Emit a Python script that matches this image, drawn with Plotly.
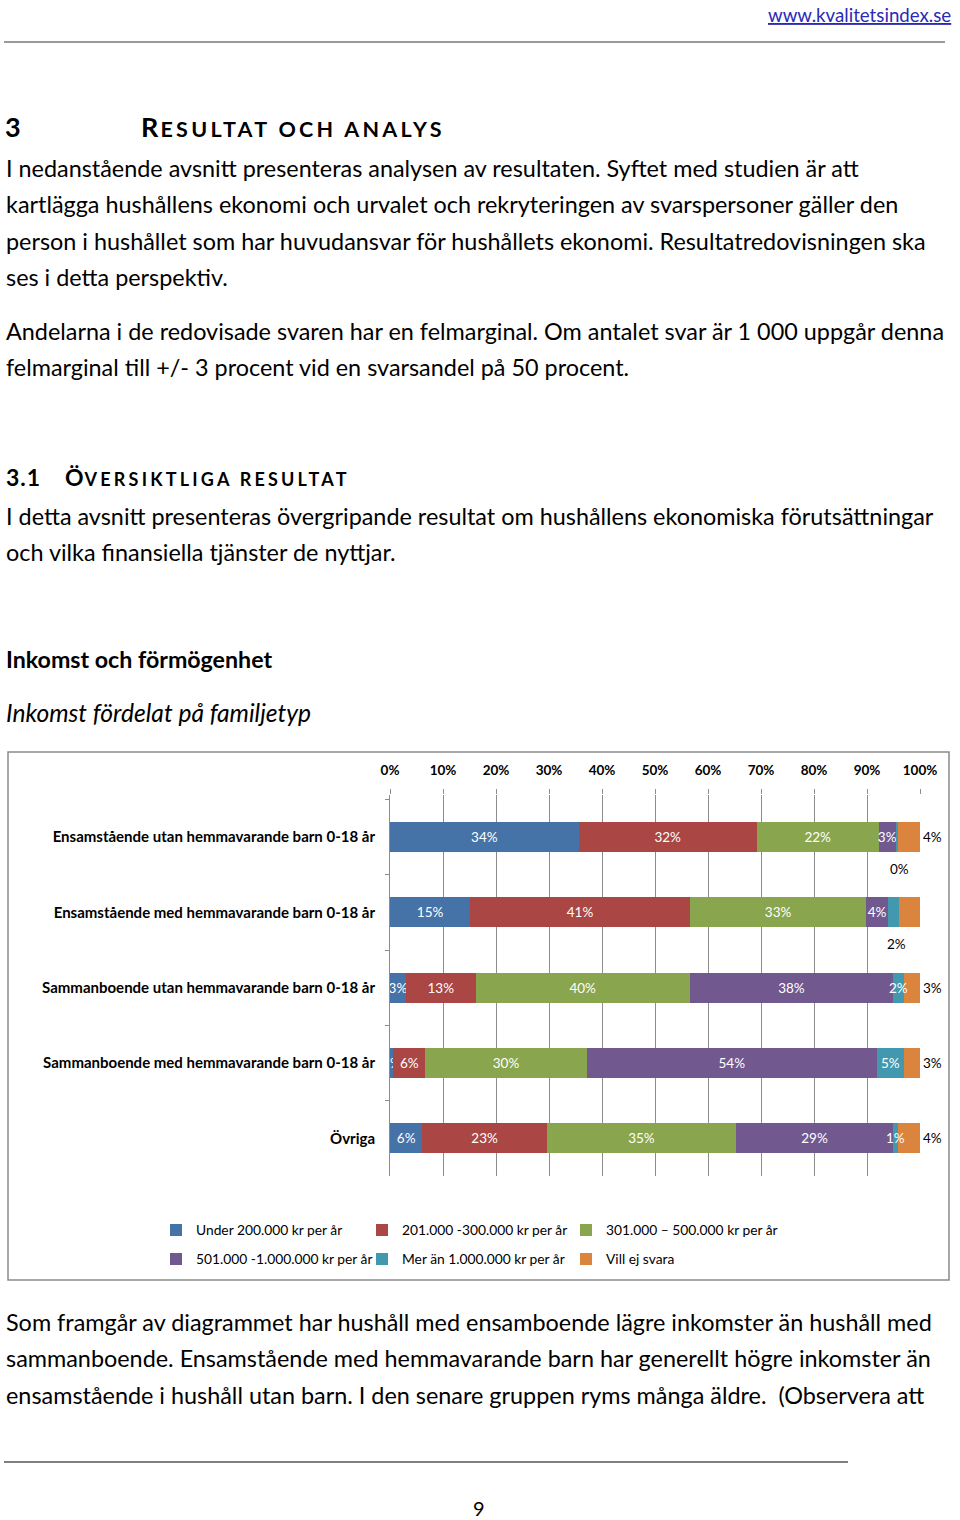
import plotly.graph_objects as go

W, H = 960, 1520
FONT = "Lato"

# ---------------- data ----------------
categories = [
    "Ensamstående utan hemmavarande barn 0-18 år",
    "Ensamstående med hemmavarande barn 0-18 år",
    "Sammanboende utan hemmavarande barn 0-18 år",
    "Sammanboende med hemmavarande barn 0-18 år",
    "Övriga",
]
series_names = [
    "Under 200.000 kr per år",
    "201.000 -300.000 kr per år",
    "301.000 – 500.000 kr per år",
    "501.000 -1.000.000 kr per år",
    "Mer än 1.000.000 kr per år",
    "Vill ej svara",
]
under_200 = [34, 15, 3, 0.6, 6]
s201_300 = [32, 41, 13, 6, 23]
s301_500 = [22, 33, 40, 30, 35]
s501_1000 = [3, 4, 38, 54, 29]
over_1000 = [0.4, 2, 2, 5, 1]
vill_ej = [4, 4, 3, 3, 4]
series_values = [under_200, s201_300, s301_500, s501_1000, over_1000, vill_ej]
colors = ["#4572A7", "#AA4643", "#89A54E", "#71588F", "#4198AF", "#DB843D"]
x_ticks = [0, 10, 20, 30, 40, 50, 60, 70, 80, 90, 100]
# rows where the "Mer än 1.000.000" label sits below the (thin) bar
cyan_below_rows = [0, 1]
# legend columns (series index order per column)
legend_columns = [[0, 3], [1, 4], [2, 5]]

body_lines_1 = [
    "I nedanstående avsnitt presenteras analysen av resultaten. Syftet med studien är att",
    "kartlägga hushållens ekonomi och urvalet och rekryteringen av svarspersoner gäller den",
    "person i hushållet som har huvudansvar för hushållets ekonomi. Resultatredovisningen ska",
    "ses i detta perspektiv.",
]
body_lines_2 = [
    "Andelarna i de redovisade svaren har en felmarginal. Om antalet svar är 1 000 uppgår denna",
    "felmarginal till +/- 3 procent vid en svarsandel på 50 procent.",
]
body_lines_3 = [
    "I detta avsnitt presenteras övergripande resultat om hushållens ekonomiska förutsättningar",
    "och vilka finansiella tjänster de nyttjar.",
]
body_lines_4 = [
    "Som framgår av diagrammet har hushåll med ensamboende lägre inkomster än hushåll med",
    "sammanboende. Ensamstående med hemmavarande barn har generellt högre inkomster än",
    "ensamstående i hushåll utan barn. I den senare gruppen ryms många äldre.  (Observera att",
]


def px(x):
    return x / W


def py(y):
    return 1 - y / H


legend_ids = ["legend", "legend2", "legend3"]
legend_of = {}
for c, idxs in enumerate(legend_columns):
    for k in idxs:
        legend_of[k] = legend_ids[c]

fig = go.Figure()
CYAN = 4
for i, (name, vals, col) in enumerate(zip(series_names, series_values, colors)):
    texts = [f"{v:.0f}%" for v in vals]
    if i == CYAN:
        texts = [""] * len(vals)  # drawn as annotations so they sit on top
    is_last = i == len(series_names) - 1
    fig.add_trace(go.Bar(
        y=categories, x=vals, name=name, orientation="h",
        marker=dict(color=col, line=dict(width=0)),
        text=texts,
        textposition="outside" if is_last else "inside",
        insidetextanchor="middle", textangle=0,
        textfont=dict(family=FONT, size=13.5, color="black" if is_last else "white"),
        cliponaxis=not is_last,
        legend=legend_of[i], legendgroup=f"g{i}",
        hoverinfo="skip",
    ))

# cyan series labels (annotations, above all bars)
for r in range(len(categories)):
    total = sum(s[r] for s in series_values)
    before = sum(s[r] for s in series_values[:CYAN])
    xc = (before + over_1000[r] / 2) / total * 100
    below = r in cyan_below_rows
    fig.add_annotation(x=xc, y=categories[r], xref="x", yref="y",
                       text=f"{over_1000[r]:.0f}%", showarrow=False,
                       yshift=-32 if below else 0, xshift=3 if below else 0,
                       font=dict(family=FONT, size=13.5, color="black" if below else "white"))

legend_common = dict(orientation="v", xanchor="left", yanchor="middle",
                     itemwidth=30, traceorder="grouped", tracegroupgap=8,
                     font=dict(family=FONT, size=13.8, color="black"),
                     bgcolor="rgba(0,0,0,0)")
legend_x = [156, 362, 566]

fig.update_layout(
    width=W, height=H, autosize=False,
    margin=dict(l=0, r=0, t=0, b=0, autoexpand=False),
    paper_bgcolor="white", plot_bgcolor="white",
    barmode="stack", barnorm="percent", bargap=0.6,
    uniformtext=dict(minsize=13.5, mode="show"),
    font=dict(family=FONT, color="black"),
    xaxis=dict(domain=[px(390), px(920)], range=[0, 100], side="top",
               tickvals=x_ticks, ticktext=[f"<b>{t}%</b>" for t in x_ticks],
               showgrid=True, gridcolor="#8c8c8c", gridwidth=1,
               ticks="outside", ticklen=5, tickcolor="#8c8c8c",
               showline=False, zeroline=False, fixedrange=True, automargin=False,
               ticklabelstandoff=9,
               tickfont=dict(family=FONT, size=13.5, color="black")),
    yaxis=dict(domain=[py(1176), py(795)], autorange="reversed",
               tickvals=categories, ticktext=[f"<b>{c}</b>" for c in categories],
               ticks="outside", tickson="boundaries", ticklen=4, tickcolor="#8c8c8c",
               showline=True, linecolor="#8c8c8c", linewidth=1,
               showgrid=False, ticklabelstandoff=11, fixedrange=True, automargin=False,
               tickfont=dict(family=FONT, size=15, color="black")),
    legend=dict(x=px(legend_x[0]), y=py(1244.5), **legend_common),
    legend2=dict(x=px(legend_x[1]), y=py(1244.5), **legend_common),
    legend3=dict(x=px(legend_x[2]), y=py(1244.5), **legend_common),
    showlegend=True,
)

shapes = [
    dict(type="line", xref="paper", yref="paper", x0=px(4), x1=px(945), y0=py(42), y1=py(42),
         line=dict(color="#9a9a9a", width=2)),
    dict(type="rect", xref="paper", yref="paper", x0=px(8), x1=px(949), y0=py(752), y1=py(1280),
         line=dict(color="#8a8a8a", width=1.5)),
    dict(type="line", xref="paper", yref="paper", x0=px(4), x1=px(848), y0=py(1462), y1=py(1462),
         line=dict(color="black", width=1)),
]
fig.update_layout(shapes=shapes)


def txt(x, y, s, size=23.4, xanchor="left", color="black"):
    fig.add_annotation(x=px(x), y=py(y), xref="paper", yref="paper", text=s, showarrow=False,
                       xanchor=xanchor, yanchor="middle", align="left",
                       font=dict(family=FONT, size=size, color=color))


txt(953, 15, "<u>www.kvalitetsindex.se</u>", size=18.7, xanchor="right", color="#2a2ab8")
txt(3, 127, "<b>3</b>", size=27)
txt(139, 127, '<b><span style="font-size:27px;letter-spacing:2px">R</span>'
              '<span style="letter-spacing:3.3px">ESULTAT OCH ANALYS</span></b>', size=21.5)
for i, line in enumerate(body_lines_1):
    txt(4, [168, 204, 241, 277][i], line)
for i, line in enumerate(body_lines_2):
    txt(4, [331, 367][i], line)
txt(4, 477, '<b><span style="letter-spacing:1px">3.1</span></b>', size=23)
txt(63, 477, '<b><span style="font-size:23px;letter-spacing:1px">Ö</span>'
             '<span style="letter-spacing:3.2px">VERSIKTLIGA RESULTAT</span></b>', size=18)
for i, line in enumerate(body_lines_3):
    txt(4, [516, 552][i], line)
txt(4, 659, "<b>Inkomst och förmögenhet</b>", size=23.2)
txt(4, 712, "<i>Inkomst fördelat på familjetyp</i>", size=24.6)
for i, line in enumerate(body_lines_4):
    txt(4, [1322, 1358, 1395][i], line)
txt(479, 1508, "9", size=20, xanchor="center")

fig.write_html(
    "out.html",
    config={"responsive": False, "displayModeBar": False},
    post_script=("document.body.style.margin='0';"
                 "document.body.style.overflow='hidden';"
                 "document.documentElement.style.overflow='hidden';"),
)
